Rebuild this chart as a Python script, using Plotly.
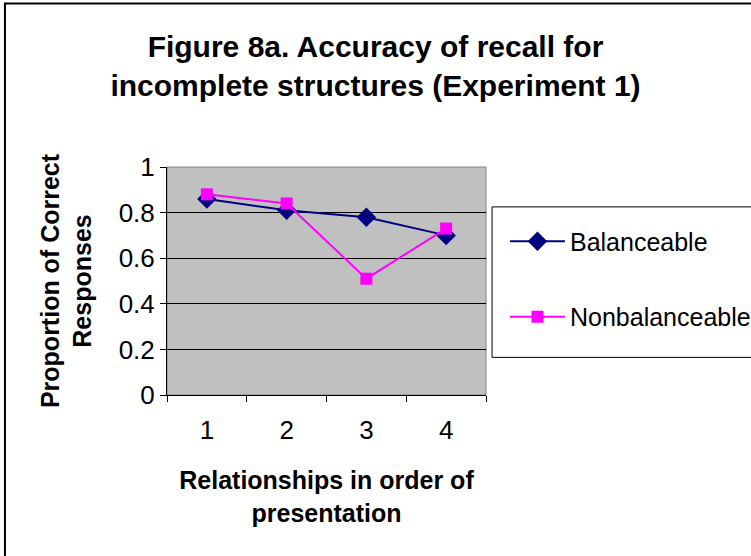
import plotly.graph_objects as go

# data
positions = [1, 2, 3, 4]
balanceable = [0.86, 0.81, 0.78, 0.70]
nonbalanceable = [0.88, 0.84, 0.51, 0.73]

FONT = "Arial, Liberation Sans, sans-serif"

fig = go.Figure()

fig.add_trace(
    go.Scatter(
        x=positions,
        y=balanceable,
        mode="lines+markers",
        name="Balanceable",
        legendgroup="b",
        line=dict(color="#000080", width=2),
        marker=dict(symbol="diamond", size=15, color="#000080"),
    )
)
fig.add_trace(
    go.Scatter(
        x=positions,
        y=nonbalanceable,
        mode="lines+markers",
        name="Nonbalanceable",
        legendgroup="n",
        line=dict(color="#FF00FF", width=2),
        marker=dict(symbol="square", size=12, color="#FF00FF"),
    )
)

fig.update_xaxes(
    type="category",
    range=[-0.5, 3.5],
    tickson="boundaries",
    ticks="outside",
    ticklen=6,
    tickcolor="black",
    ticklabelstandoff=12,
    showline=True,
    linecolor="black",
    linewidth=1,
    showgrid=False,
    tickfont=dict(size=26, color="black", family=FONT),
    title=dict(
        text="<b>Relationships in order of<br>presentation</b>",
        font=dict(size=25, color="black", family=FONT),
        standoff=27,
    ),
)
fig.update_yaxes(
    range=[0, 1],
    dtick=0.2,
    tickformat="~g",
    ticks="outside",
    ticklen=6,
    tickcolor="black",
    showline=True,
    linecolor="black",
    linewidth=1,
    showgrid=True,
    gridcolor="black",
    gridwidth=1,
    zeroline=False,
    tickfont=dict(size=26, color="black", family=FONT),
    title=dict(
        text="<b>Proportion of Correct<br>Responses</b>",
        font=dict(size=25, color="black", family=FONT),
        standoff=19,
    ),
)

# gray border on top/right of the plot area, outer chart frame, legend box
fig.add_shape(type="rect", xref="paper", yref="paper", x0=0, x1=1, y0=0, y1=1,
              line=dict(color="#808080", width=1), layer="below")
fig.add_shape(type="rect", xref="paper", yref="paper", x0=-0.508, x1=1.9, y0=-0.8, y1=1.717,
              line=dict(color="black", width=2))
fig.add_shape(type="rect", xref="paper", yref="paper", x0=1.019, x1=1.9, y0=0.165, y1=0.825,
              line=dict(color="black", width=1))

fig.update_layout(
    width=751,
    height=556,
    margin=dict(l=167, r=265, t=167, b=161),
    plot_bgcolor="#C0C0C0",
    paper_bgcolor="white",
    font=dict(family=FONT, color="black"),
    title=dict(
        text="<b>Figure 8a. Accuracy of recall for<br>incomplete structures (Experiment 1)</b>",
        font=dict(size=30, color="black", family=FONT),
        x=0.5,
        xanchor="center",
        y=0.898,
        yanchor="middle",
    ),
    showlegend=True,
    legend=dict(
        xref="container",
        yref="container",
        x=0.6724,
        xanchor="left",
        y=0.6072,
        yanchor="top",
        itemwidth=55,
        font=dict(size=25, color="black", family=FONT),
        tracegroupgap=40,
        bgcolor="rgba(0,0,0,0)",
        borderwidth=0,
    ),
)

fig.write_html(
    "out.html",
    config={"displayModeBar": False},
    post_script="document.body.style.margin='0';",
)
